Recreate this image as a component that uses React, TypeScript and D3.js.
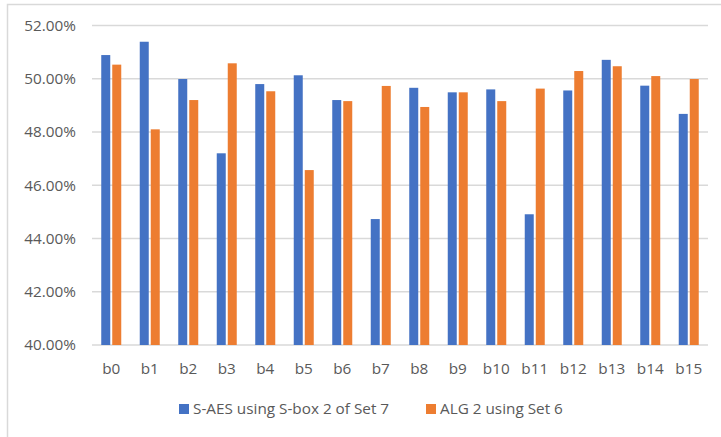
import React from "react";
import * as d3 from "d3";

const categories = ["b0", "b1", "b2", "b3", "b4", "b5", "b6", "b7", "b8", "b9", "b10", "b11", "b12", "b13", "b14", "b15"];
const seriesNames = ["S-AES using S-box 2 of Set 7", "ALG 2 using Set 6"];
const saesValues = [50.89, 51.39, 49.99, 47.2, 49.8, 50.13, 49.2, 44.73, 49.66, 49.49, 49.6, 44.91, 49.56, 50.71, 49.74, 48.68];
const algValues = [50.53, 48.1, 49.2, 50.58, 49.53, 46.57, 49.16, 49.73, 48.94, 49.49, 49.16, 49.63, 50.29, 50.47, 50.1, 49.99];
const yTicks = [40, 42, 44, 46, 48, 50, 52];
const colors = ["#4472C4", "#ED7D31"];

const W = 721;
const H = 437;
const FONT = "'Open Sans', 'Noto Sans', sans-serif";
const FS = 15.3;

export default function App() {
  const x = d3.scaleBand<string>().domain(categories).range([92, 708]).padding(0);
  const y = d3.scaleLinear().domain([40, 52]).range([345, 25.5]);
  const barW = 9;
  const gap = 2;
  const series = [saesValues, algValues];

  return (
    <svg width={W} height={H} style={{ position: "absolute", left: 0, top: 0, background: "#fff" }}>
      <rect x={0} y={0} width={W} height={H} fill="#fff" />
      {/* chart frame */}
      <path d={`M7.5,${H + 2} V4.5 H${W + 2}`} fill="none" stroke="#d9d9d9" strokeWidth={1.5} />
      {yTicks.map((t) => (
        <g key={t}>
          <line x1={92} x2={708} y1={y(t)} y2={y(t)} stroke="#d9d9d9" strokeWidth={1.3} />
          <text x={76} y={y(t)} dy="0.35em" textAnchor="end" fontFamily={FONT} fontSize={FS} fill="#595959">
            {t.toFixed(2)}%
          </text>
        </g>
      ))}
      {categories.map((c, i) => {
        const cx = (x(c) as number) + x.bandwidth() / 2;
        const x0 = cx - barW - gap / 2;
        return (
          <g key={c}>
            {series.map((vals, s) => (
              <rect
                key={s}
                x={x0 + s * (barW + gap)}
                y={y(vals[i])}
                width={barW}
                height={y(40) - y(vals[i])}
                fill={colors[s]}
              />
            ))}
            <text x={cx} y={369} dy="0.35em" textAnchor="middle" fontFamily={FONT} fontSize={FS} fill="#595959">
              {c}
            </text>
          </g>
        );
      })}
      {/* legend */}
      {[179, 426].map((lx, s) => (
        <g key={s}>
          <rect x={lx} y={404} width={10} height={10} fill={colors[s]} />
          <text x={lx + 14} y={409} dy="0.35em" fontFamily={FONT} fontSize={FS} fill="#595959">
            {seriesNames[s]}
          </text>
        </g>
      ))}
    </svg>
  );
}
